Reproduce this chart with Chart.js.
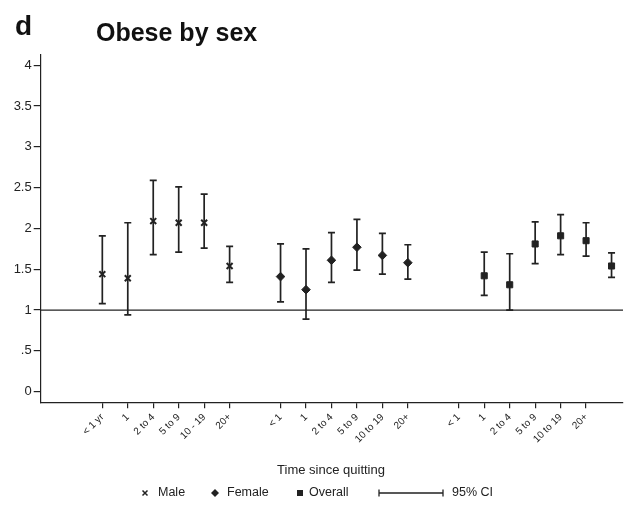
<!DOCTYPE html>
<html>
<head>
<meta charset="utf-8">
<script src="https://cdn.jsdelivr.net/npm/chart.js@4"></script>
<style>
  html, body { margin: 0; padding: 0; background: #fff; }
  #wrap { position: relative; width: 630px; height: 511px; }
</style>
</head>
<body>
<div id="wrap"><canvas id="c" width="630" height="511"></canvas></div>
<script>
// Odds ratios (with 95% CI) of obesity by time since quitting smoking
const maleLabels    = ['< 1 yr', '1', '2 to 4', '5 to 9', '10 - 19', '20+'];
const femaleLabels  = ['< 1', '1', '2 to 4', '5 to 9', '10 to 19', '20+'];
const overallLabels = ['< 1', '1', '2 to 4', '5 to 9', '10 to 19', '20+'];

const maleOR    = [1.44, 1.39, 2.09, 2.07, 2.07, 1.54];
const maleLo    = [1.08, 0.94, 1.68, 1.71, 1.76, 1.34];
const maleHi    = [1.91, 2.07, 2.59, 2.51, 2.42, 1.78];

const femaleOR  = [1.41, 1.25, 1.61, 1.77, 1.67, 1.58];
const femaleLo  = [1.10, 0.89, 1.34, 1.49, 1.44, 1.38];
const femaleHi  = [1.81, 1.75, 1.95, 2.11, 1.94, 1.80];

const overallOR = [1.42, 1.31, 1.81, 1.91, 1.85, 1.54];
const overallLo = [1.18, 1.00, 1.57, 1.68, 1.66, 1.40];
const overallHi = [1.71, 1.69, 2.08, 2.17, 2.07, 1.70];

const yTickValues = [0, 0.5, 1, 1.5, 2, 2.5, 3, 3.5, 4];

// slot positions along the category axis (one empty slot between groups)
const maleSlots    = [0, 1, 2, 3, 4, 5];
const femaleSlots  = [7, 8, 9, 10, 11, 12];
const overallTicks = [14, 15, 16, 17, 18, 19];
const overallSlots = [15, 16, 17, 18, 19, 20];

const tickLabelAt = {};
maleSlots.forEach((s, i) => tickLabelAt[s] = maleLabels[i]);
femaleSlots.forEach((s, i) => tickLabelAt[s] = femaleLabels[i]);
overallTicks.forEach((s, i) => tickLabelAt[s] = overallLabels[i]);
const xTickValues = Object.keys(tickLabelAt).map(Number);

function points(slots, or, lo, hi) {
  return slots.map((s, i) => ({ x: s, y: or[i], lo: lo[i], hi: hi[i] }));
}

const INK = '#222';
const FONT = '"Liberation Sans", Arial, Helvetica, sans-serif';

const errorBars = {
  id: 'errorBars',
  beforeDatasetsDraw(chart) {
    const { ctx, chartArea, scales: { x, y } } = chart;
    ctx.save();
    // reference line at OR = 1
    const y1 = y.getPixelForValue(1);
    ctx.strokeStyle = INK;
    ctx.lineWidth = 1.3;
    ctx.beginPath();
    ctx.moveTo(chartArea.left, y1);
    ctx.lineTo(chartArea.right, y1);
    ctx.stroke();
    // confidence intervals
    ctx.lineWidth = 1.7;
    chart.data.datasets.forEach(ds => {
      ds.data.forEach(p => {
        const px = x.getPixelForValue(p.x);
        const pl = y.getPixelForValue(p.lo);
        const ph = y.getPixelForValue(p.hi);
        ctx.beginPath();
        ctx.moveTo(px, pl); ctx.lineTo(px, ph);
        ctx.moveTo(px - 3.5, pl); ctx.lineTo(px + 3.5, pl);
        ctx.moveTo(px - 3.5, ph); ctx.lineTo(px + 3.5, ph);
        ctx.stroke();
      });
    });
    ctx.restore();
  }
};

const annotations = {
  id: 'annotations',
  afterDraw(chart) {
    const { ctx } = chart;
    ctx.save();
    ctx.fillStyle = '#111';
    ctx.textBaseline = 'alphabetic';
    ctx.textAlign = 'left';
    ctx.font = 'bold 28px ' + FONT;
    ctx.fillText('d', 15, 35);
    ctx.font = 'bold 25px ' + FONT;
    ctx.fillText('Obese by sex', 96, 41);

    ctx.fillStyle = '#222';
    ctx.font = '13px ' + FONT;
    ctx.textAlign = 'center';
    ctx.fillText('Time since quitting', 331, 474);

    // legend
    const ly = 493;
    ctx.textAlign = 'left';
    ctx.textBaseline = 'middle';
    ctx.strokeStyle = INK;
    ctx.fillStyle = INK;
    ctx.font = '12.5px ' + FONT;
    // male cross
    ctx.lineWidth = 1.5;
    ctx.beginPath();
    ctx.moveTo(142.5, ly - 2.5); ctx.lineTo(147.5, ly + 2.5);
    ctx.moveTo(147.5, ly - 2.5); ctx.lineTo(142.5, ly + 2.5);
    ctx.stroke();
    ctx.fillText('Male', 158, ly);
    // female diamond
    ctx.beginPath();
    ctx.moveTo(215, ly - 4); ctx.lineTo(219, ly); ctx.lineTo(215, ly + 4); ctx.lineTo(211, ly);
    ctx.closePath(); ctx.fill();
    ctx.fillText('Female', 227, ly);
    // overall square
    ctx.fillRect(297, ly - 3, 6, 6);
    ctx.fillText('Overall', 309, ly);
    // CI
    ctx.lineWidth = 1.3;
    ctx.beginPath();
    ctx.moveTo(379, ly); ctx.lineTo(443, ly);
    ctx.moveTo(379, ly - 3.5); ctx.lineTo(379, ly + 3.5);
    ctx.moveTo(443, ly - 3.5); ctx.lineTo(443, ly + 3.5);
    ctx.stroke();
    ctx.fillText('95% CI', 452, ly);
    ctx.restore();
  }
};

new Chart(document.getElementById('c'), {
  type: 'scatter',
  data: {
    datasets: [
      { label: 'Male', data: points(maleSlots, maleOR, maleLo, maleHi),
        pointStyle: 'crossRot', pointRadius: 4.2, borderWidth: 2, borderColor: INK, backgroundColor: INK },
      { label: 'Female', data: points(femaleSlots, femaleOR, femaleLo, femaleHi),
        pointStyle: 'rectRot', pointRadius: 4.3, borderWidth: 1, borderColor: INK, backgroundColor: INK },
      { label: 'Overall', data: points(overallSlots, overallOR, overallLo, overallHi),
        pointStyle: 'rect', pointRadius: 4.3, borderWidth: 1, borderColor: INK, backgroundColor: INK }
    ]
  },
  options: {
    responsive: false,
    animation: false,
    events: [],
    layout: { padding: { left: 0, top: 55, right: 7, bottom: 0 } },
    plugins: { legend: { display: false }, tooltip: { enabled: false }, title: { display: false } },
    scales: {
      x: {
        type: 'linear',
        min: -2.42,
        max: 20.45,
        afterBuildTicks: s => { s.ticks = xTickValues.map(v => ({ value: v })); },
        afterFit: s => { s.height = 108.7; },
        grid: { drawOnChartArea: false, drawTicks: true, tickLength: 6, color: INK, lineWidth: 1.2 },
        border: { display: true, color: INK, width: 1.2 },
        ticks: {
          autoSkip: false, minRotation: 45, maxRotation: 45, padding: 3,
          color: '#222', font: { family: FONT, size: 10 },
          callback: v => tickLabelAt[v] ?? ''
        }
      },
      y: {
        type: 'linear',
        min: -0.13,
        max: 4.125,
        afterBuildTicks: s => { s.ticks = yTickValues.map(v => ({ value: v })); },
        afterFit: s => { s.width = 40.7; },
        grid: { drawOnChartArea: false, drawTicks: true, tickLength: 7, color: INK, lineWidth: 1.2 },
        border: { display: true, color: INK, width: 1.2 },
        ticks: {
          padding: 2, color: '#222', font: { family: FONT, size: 13 },
          callback: v => (v > 0 && v < 1) ? String(v).replace(/^0/, '') : String(v)
        }
      }
    }
  },
  plugins: [errorBars, annotations]
});
</script>
</body>
</html>
